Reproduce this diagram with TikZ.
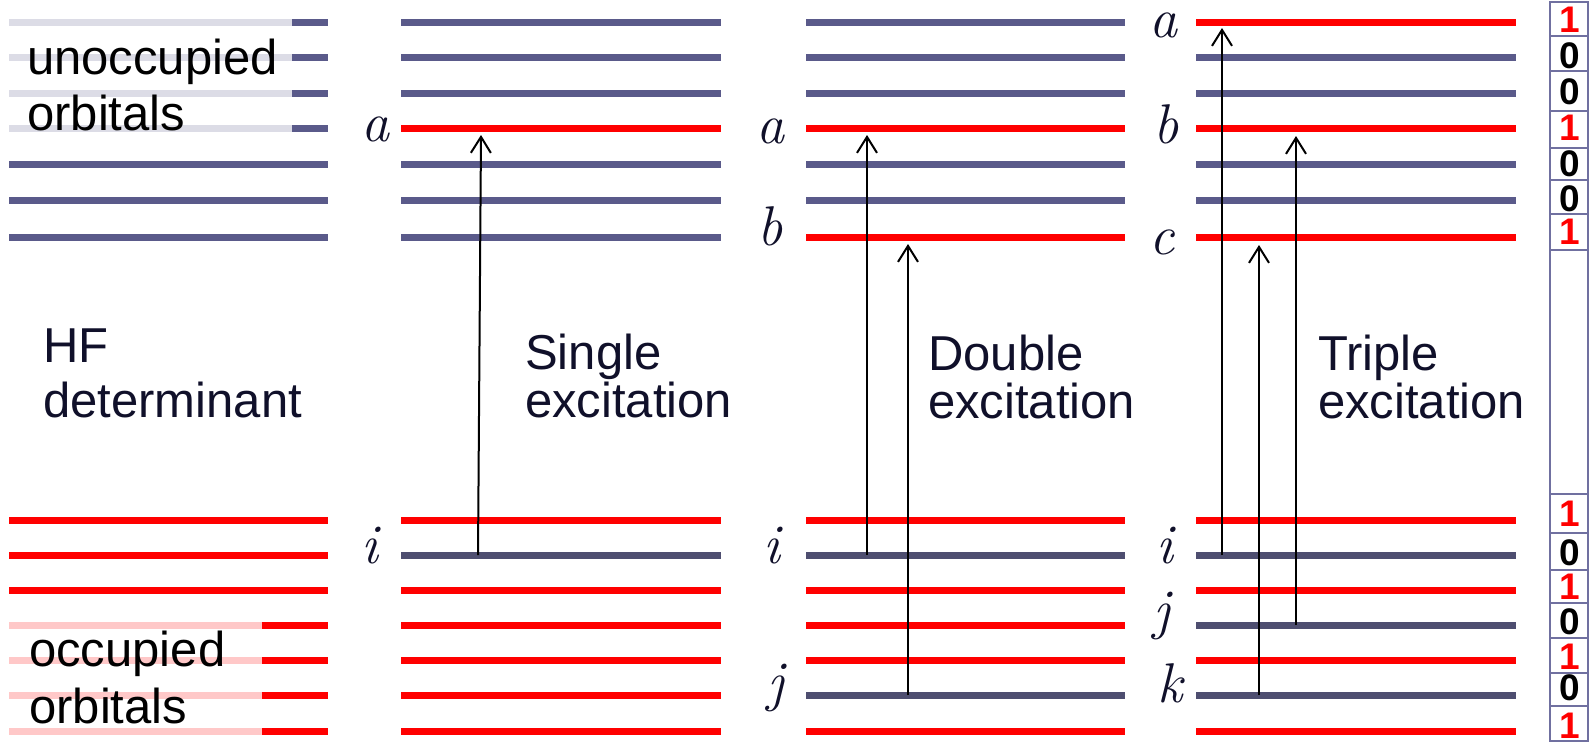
\documentclass[tikz,border=0pt]{standalone}
\usepackage{fontspec}
\setmainfont{Liberation Sans}
\newfontfamily\lmfont{Latin Modern Roman}
\usetikzlibrary{arrows.meta}
\definecolor{virc}{RGB}{90,90,138}
\definecolor{occd}{RGB}{78,78,112}
\definecolor{fadeg}{RGB}{220,220,230}
\definecolor{fader}{RGB}{255,200,200}
\definecolor{navy}{RGB}{16,16,42}
\definecolor{gridc}{RGB}{112,112,160}
\begin{document}
\begin{tikzpicture}[x=1pt,y=-1pt,
  lev/.style={line width=7pt},
  redlev/.style={lev,draw=red},
  virlev/.style={lev,draw=virc},
  holelev/.style={lev,draw=occd},
  fglev/.style={lev,draw=fadeg},
  frlev/.style={lev,draw=fader},
  exc/.style={line width=2pt,-{Straight Barb[length=16pt,width=20pt,line width=2pt]}},
  lbl/.style={text=navy,font=\lmfont\itshape\fontsize{56}{56}\selectfont,inner sep=0pt,anchor=base},
  caption/.style={font=\fontsize{49}{48}\selectfont,text=navy,align=left,inner sep=0pt,anchor=base west},
  bitnum/.style={font=\fontsize{37}{37}\selectfont\bfseries,inner sep=0pt},
  bitcell/.style={draw=gridc,line width=2pt}
]
\useasboundingbox[fill=white] (0,0) rectangle (1589,742);

% ---------- column 1: HF determinant ----------
\foreach \y in {22,57,93,128} {
  \draw[fglev] (9,\y) -- (292,\y);
  \draw[virlev] (292,\y) -- (328,\y);
}
\foreach \y in {164,200,237} \draw[virlev] (9,\y) -- (328,\y);
\foreach \y in {520,555,590} \draw[redlev] (9,\y) -- (328,\y);
\foreach \y in {625,660,695,731} {
  \draw[frlev] (9,\y) -- (262,\y);
  \draw[redlev] (262,\y) -- (328,\y);
}
% anchor base = baseline of the last line
\node[caption,text=black,font=\fontsize{49}{56}\selectfont] (unocc) at (27,130) {unoccupied\\orbitals};
\node[caption,text=black,font=\fontsize{49}{57}\selectfont] (occ) at (29,723) {occupied\\orbitals};
\node[caption,font=\fontsize{49}{55}\selectfont] (hf) at (43,417) {HF\\determinant};

% ---------- column 2: single ----------
\foreach \y in {22,57,93,164,200,237} \draw[virlev] (401,\y) -- (721,\y);
\draw[redlev] (401,128) -- (721,128);
\foreach \y in {520,590,625,660,695,731} \draw[redlev] (401,\y) -- (721,\y);
\draw[holelev] (401,555) -- (721,555);
\node[lbl] (s-la) at (375,141) {a};
\node[lbl] (s-li) at (370,563) {i};
\coordinate (s-i) at (478,555);
\coordinate (s-a) at (481,135);
\draw[exc] (s-i) -- (s-a);
\node[caption] (single) at (525,417) {Single\\excitation};

% ---------- column 3: double ----------
\foreach \y in {22,57,93,164,200} \draw[virlev] (806,\y) -- (1125,\y);
\foreach \y in {128,237} \draw[redlev] (806,\y) -- (1125,\y);
\foreach \y in {520,590,625,660,731} \draw[redlev] (806,\y) -- (1125,\y);
\foreach \y in {555,695} \draw[holelev] (806,\y) -- (1125,\y);
\node[lbl] (d-la) at (770,143) {a};
\node[lbl] (d-lb) at (770,245) {b};
\node[lbl] (d-li) at (772,563) {i};
\node[lbl] (d-lj) at (776,700) {j};
\coordinate (d-i) at (867,555);
\coordinate (d-a) at (867,135);
\coordinate (d-j) at (908,695);
\coordinate (d-b) at (908,244);
\draw[exc] (d-i) -- (d-a);
\draw[exc] (d-j) -- (d-b);
\node[caption] (double) at (928,418) {Double\\excitation};

% ---------- column 4: triple ----------
\foreach \y in {57,93,164,200} \draw[virlev] (1196,\y) -- (1516,\y);
\foreach \y in {22,128,237} \draw[redlev] (1196,\y) -- (1516,\y);
\foreach \y in {520,590,660,731} \draw[redlev] (1196,\y) -- (1516,\y);
\foreach \y in {555,625,695} \draw[holelev] (1196,\y) -- (1516,\y);
\node[lbl] (t-la) at (1163,37) {a};
\node[lbl] (t-lb) at (1166,143) {b};
\node[lbl] (t-lc) at (1162,254) {c};
\node[lbl] (t-li) at (1165,563) {i};
\node[lbl] (t-lj) at (1162,628) {j};
\node[lbl] (t-lk) at (1170,702) {k};
\coordinate (t-i) at (1222,555);
\coordinate (t-a) at (1222,28);
\coordinate (t-j) at (1296,625);
\coordinate (t-b) at (1296,136);
\coordinate (t-k) at (1259,695);
\coordinate (t-c) at (1259,245);
\draw[exc] (t-i) -- (t-a);
\draw[exc] (t-j) -- (t-b);
\draw[exc] (t-k) -- (t-c);
\node[caption] (triple) at (1318,418) {Triple\\excitation};

% ---------- occupation string ----------
\foreach \t/\b in {2/36,36/71,71/111,111/148,148/180,180/214,214/250,250/494,494/533,533/570,570/603,603/638,638/673,673/706,706/741}
  \draw[bitcell] (1550,\t) rectangle (1588,\b);
\foreach \y/\d/\c [count=\n] in {20/1/red,56/0/black,92/0/black,128/1/red,164/0/black,199/0/black,232/1/red,
  514/1/red,553/0/black,587/1/red,622/0/black,657/1/red,688/0/black,726/1/red}
  \node[bitnum,text=\c] (bit\n) at (1570,\y) {\d};
\end{tikzpicture}
\end{document}
